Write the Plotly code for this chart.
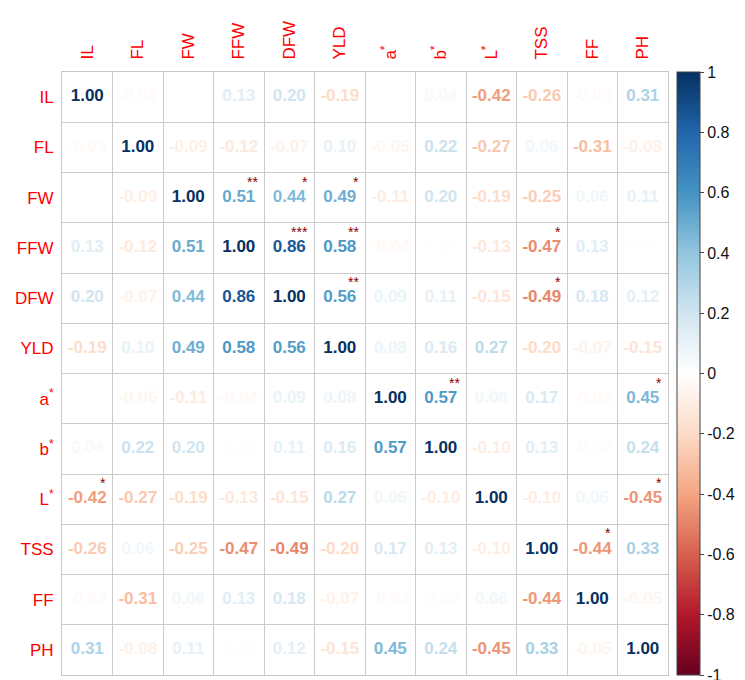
import plotly.graph_objects as go
from plotly.colors import sample_colorscale

labels = ["IL", "FL", "FW", "FFW", "DFW", "YLD", "a<sup>*</sup>", "b<sup>*</sup>", "L<sup>*</sup>", "TSS", "FF", "PH"]

corr = [
    [1.00, -0.03, 0.00, 0.13, 0.20, -0.19, 0.00, 0.04, -0.42, -0.26, -0.03, 0.31],
    [-0.03, 1.00, -0.09, -0.12, -0.07, 0.10, -0.05, 0.22, -0.27, 0.06, -0.31, -0.08],
    [0.00, -0.09, 1.00, 0.51, 0.44, 0.49, -0.11, 0.20, -0.19, -0.25, 0.06, 0.11],
    [0.13, -0.12, 0.51, 1.00, 0.86, 0.58, -0.04, 0.01, -0.13, -0.47, 0.13, 0.01],
    [0.20, -0.07, 0.44, 0.86, 1.00, 0.56, 0.09, 0.11, -0.15, -0.49, 0.18, 0.12],
    [-0.19, 0.10, 0.49, 0.58, 0.56, 1.00, 0.08, 0.16, 0.27, -0.20, -0.07, -0.15],
    [0.00, -0.05, -0.11, -0.04, 0.09, 0.08, 1.00, 0.57, 0.06, 0.17, -0.03, 0.45],
    [0.04, 0.22, 0.20, 0.01, 0.11, 0.16, 0.57, 1.00, -0.10, 0.13, -0.02, 0.24],
    [-0.42, -0.27, -0.19, -0.13, -0.15, 0.27, 0.06, -0.10, 1.00, -0.10, 0.06, -0.45],
    [-0.26, 0.06, -0.25, -0.47, -0.49, -0.20, 0.17, 0.13, -0.10, 1.00, -0.44, 0.33],
    [-0.03, -0.31, 0.06, 0.13, 0.18, -0.07, -0.03, -0.02, 0.06, -0.44, 1.00, -0.05],
    [0.31, -0.08, 0.11, 0.01, 0.12, -0.15, 0.45, 0.24, -0.45, 0.33, -0.05, 1.00],
]

# significance stars: (row, col, stars)
stars = [
    (2, 3, "**"), (2, 4, "*"), (2, 5, "*"),
    (3, 4, "***"), (3, 5, "**"), (3, 9, "*"),
    (4, 5, "**"), (4, 9, "*"),
    (6, 7, "**"), (6, 11, "*"),
    (8, 0, "*"), (8, 11, "*"),
    (9, 10, "*"),
]

cbar_vals = [1, 0.8, 0.6, 0.4, 0.2, 0, -0.2, -0.4, -0.6, -0.8, -1]
cbar_text = ["1", "0.8", "0.6", "0.4", "0.2", "0", "-0.2", "-0.4", "-0.6", "-0.8", "-1"]

rdbu = ["#67001F", "#B2182B", "#D6604D", "#F4A582", "#FDDBC7", "#FFFFFF",
        "#D1E5F0", "#92C5DE", "#4393C3", "#2166AC", "#053061"]
cscale = [[i / (len(rdbu) - 1), c] for i, c in enumerate(rdbu)]

FONT = "Arial, Liberation Sans, sans-serif"
n = len(labels)
xs, ys, texts, vals = [], [], [], []
for i in range(n):
    for j in range(n):
        xs.append(j)
        ys.append(i)
        v = corr[i][j]
        vals.append(v)
        texts.append(f"{v:.2f}")
colors = sample_colorscale(cscale, [(v + 1) / 2 for v in vals])

fig = go.Figure()
fig.add_trace(go.Scatter(
    x=xs, y=ys, mode="text", text=texts,
    textfont=dict(family=FONT, size=17, color=colors, weight="bold"),
    hoverinfo="skip", showlegend=False,
))
# colorbar carrier
fig.add_trace(go.Scatter(
    x=[0, 0], y=[0, 0], mode="markers",
    marker=dict(size=0.1, opacity=0, color=[-1, 1], cmin=-1, cmax=1, colorscale=cscale,
                showscale=True,
                colorbar=dict(x=1.015, xanchor="left", y=0.5, yanchor="middle", len=1.0, lenmode="fraction",
                              xpad=0, ypad=0, ticklabeloverflow="allow",
                              thickness=23, outlinewidth=1, outlinecolor="#444",
                              tickvals=cbar_vals, ticktext=cbar_text,
                              ticks="outside", ticklen=4, tickcolor="#444",
                              tickfont=dict(family=FONT, size=16, color="#111"))),
    hoverinfo="skip", showlegend=False,
))

for (r, c, s) in stars:
    fig.add_annotation(x=c, y=r, text=s, showarrow=False, xanchor="right", yanchor="middle",
                       xshift=21, yshift=16,
                       font=dict(family=FONT, size=14, color="#8B0000"))

fig.update_xaxes(range=[-0.5, n - 0.5], side="top", tickmode="array", tickvals=list(range(n)), ticktext=labels,
                 tickangle=-90, tickfont=dict(family=FONT, size=17, color="#FF0000"), automargin=False,
                 showgrid=False, zeroline=False, showline=True, linecolor="#c8c8c8", mirror=True, ticks="",
                 ticklabelstandoff=8,
                 minor=dict(tick0=-0.5, dtick=1, showgrid=True, gridcolor="#cccccc", gridwidth=1))
fig.update_yaxes(range=[n - 0.5, -0.5], tickmode="array", tickvals=list(range(n)), ticktext=labels,
                 tickfont=dict(family=FONT, size=17, color="#FF0000"), automargin=False,
                 showgrid=False, zeroline=False, showline=True, linecolor="#c8c8c8", mirror=True, ticks="",
                 ticklabelstandoff=4,
                 minor=dict(tick0=-0.5, dtick=1, showgrid=True, gridcolor="#cccccc", gridwidth=1))

fig.update_layout(width=745, height=680, margin=dict(l=62, r=77, t=72, b=5, autoexpand=False),
                  paper_bgcolor="white", plot_bgcolor="white")

fig.write_html("out.html", config={"displayModeBar": False},
               post_script="document.body.style.margin='0';document.body.style.overflow='hidden';")
